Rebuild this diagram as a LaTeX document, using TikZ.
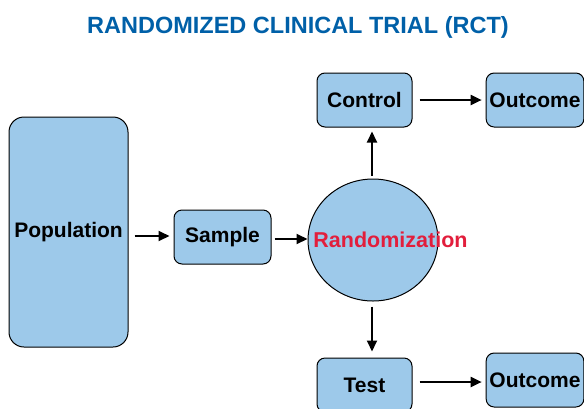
\documentclass[tikz,border=0pt]{standalone}
\usepackage{fontspec}
\setmainfont{Liberation Sans}
\usetikzlibrary{
    arrows.meta,
    positioning,
    shapes.geometric
}
\definecolor{boxblue}{RGB}{157,201,234}
\definecolor{titleblue}{RGB}{0,96,168}
\definecolor{randred}{RGB}{226,30,60}
\tikzset{
    stepbox/.style={
        draw,
        line width=1pt,
        fill=boxblue,
        rounded corners=8pt,
        minimum width=95pt,
        minimum height=54pt,
        font=\fontsize{21}{24}\selectfont\bfseries
    },
    flow/.style={-{Triangle[length=11pt,width=10pt]},line width=2pt}
}

\begin{document}
\begin{tikzpicture}[x=1pt,y=-1pt]

    \useasboundingbox (0,0) rectangle (584,408);
    \clip (0,0) rectangle (584,408);

    \node[font=\fontsize{23.5}{26}\selectfont\bfseries, text=titleblue] (title) at (298,27) {RANDOMIZED CLINICAL TRIAL (RCT)};

    \node[stepbox, rounded corners=15pt, minimum width=119pt, minimum height=230pt] (population) at (68.5,232) {Population};
    \node[stepbox, minimum width=97pt] (sample) at (222.5,237) {Sample};
    \node[draw, line width=1pt, fill=boxblue, ellipse, minimum width=130pt, minimum height=122pt] (randomization) at (373,240) {};
    \node[font=\fontsize{21.5}{24}\selectfont\bfseries, text=randred] (rand-label) at (390.5,240) {Randomization};

    \node[stepbox] (control) at (364.5,100) {Control};
    \node[stepbox, minimum width=96pt] (outcome-top) at (535,100) {Outcome};
    \node[stepbox] (test) at (364.5,385) {Test};
    \node[stepbox, minimum width=96pt] (outcome-bottom) at (535,380) {Outcome};

    % connectors
    \coordinate (pop-out) at ([shift={(6,4)}]population.east);
    \coordinate (samp-out) at ([shift={(3,2)}]sample.east);
    \coordinate (rand-up) at ([shift={(-1,-3)}]randomization.north);
    \coordinate (rand-down) at ([shift={(-1,5)}]randomization.south);
    \coordinate (ctrl-out) at ([shift={(7,0)}]control.east);
    \coordinate (test-out) at ([shift={(7,-3)}]test.east);

    \draw[flow] (pop-out) -- ([shift={(-4,0)}]pop-out -| sample.west);
    \draw[flow] (samp-out) -- (samp-out -| randomization.west);
    \draw[flow] (rand-up) -- ([shift={(0,4)}]rand-up |- control.south);
    \draw[flow] (rand-down) -- ([shift={(0,-6)}]rand-down |- test.north);
    \draw[flow] (ctrl-out) -- ([shift={(-4,0)}]ctrl-out -| outcome-top.west);
    \draw[flow] (test-out) -- ([shift={(-4,0)}]test-out -| outcome-bottom.west);

\end{tikzpicture}
\end{document}
